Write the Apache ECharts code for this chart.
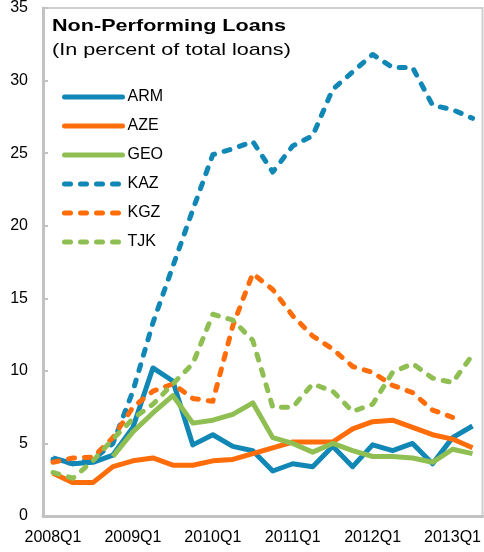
<!DOCTYPE html>
<html>
<head>
<meta charset="utf-8">
<script src="https://cdn.jsdelivr.net/npm/echarts@6/dist/echarts.min.js"></script>
<style>
  html, body { margin: 0; padding: 0; background: #fff; }
  #chart { width: 484px; height: 552px; }
</style>
</head>
<body>
<div id="chart"></div>
<script>
// quarters, 2008Q1 .. 2013Q2
const quarters = [
  "2008Q1", "2008Q2", "2008Q3", "2008Q4",
  "2009Q1", "2009Q2", "2009Q3", "2009Q4",
  "2010Q1", "2010Q2", "2010Q3", "2010Q4",
  "2011Q1", "2011Q2", "2011Q3", "2011Q4",
  "2012Q1", "2012Q2", "2012Q3", "2012Q4",
  "2013Q1", "2013Q2"
];

// NPL ratios, percent of total loans
const arm = [4.0, 3.6, 3.7, 4.2, 6.1, 10.2, 9.3, 4.9, 5.6, 4.8, 4.5, 3.1, 3.6, 3.4, 4.8, 3.4, 4.9, 4.5, 5.0, 3.6, 5.4, 6.2];
const aze = [2.95, 2.3, 2.3, 3.4, 3.8, 4.0, 3.5, 3.5, 3.8, 3.9, 4.3, 4.7, 5.1, 5.1, 5.1, 6.0, 6.5, 6.6, 6.1, 5.6, 5.3, 4.7];
const geo = [null, null, null, 4.1, 5.8, 7.1, 8.3, 6.4, 6.6, 7.0, 7.8, 5.4, 5.0, 4.4, 5.0, 4.5, 4.1, 4.1, 4.0, 3.7, 4.6, 4.3];
const kaz = [3.9, 3.6, 3.9, 5.0, 8.6, 13.3, 17.2, 21.1, 24.9, 25.3, 25.8, 23.7, 25.5, 26.2, 29.4, 30.6, 31.8, 30.9, 30.9, 28.3, 28.0, 27.4];
const kgz = [3.7, 4.0, 4.05, 5.4, 7.5, 8.6, 9.1, 8.1, 7.9, 13.1, 16.7, 15.6, 13.8, 12.4, 11.5, 10.3, 9.9, 9.0, 8.5, 7.3, 6.8, null];
const tjk = [3.0, 2.6, 3.8, 5.3, 6.7, 7.7, 9.1, 10.5, 13.9, 13.5, 12.1, 7.5, 7.5, 9.1, 8.6, 7.2, 7.7, 9.9, 10.5, 9.5, 9.2, 11.1];

const yTicks = { min: 0, max: 35, step: 5 };

const BLUE = "#1187b6";
const ORANGE = "#ff6d0a";
const GREEN = "#8fbf52";
const DASH = [6, 10];
const FONT = "Liberation Sans, Arial, sans-serif";

function mkLine(name, data, color, dashed) {
  return {
    name: name,
    type: "line",
    data: data,
    symbol: "none",
    connectNulls: false,
    lineStyle: {
      color: color,
      width: 5,
      type: dashed ? DASH : "solid",
      cap: dashed ? "round" : "butt",
      join: "round"
    },
    itemStyle: { color: color }
  };
}

const chart = echarts.init(document.getElementById("chart"));
chart.setOption({
  animation: false,
  backgroundColor: "#fff",
  textStyle: { fontFamily: FONT },
  // title text in the source is horizontally stretched, so draw it as graphic text
  graphic: [
    {
      type: "text", x: 52, y: 26, scaleX: 1.27,
      style: { text: "Non-Performing Loans", font: "bold 17px " + FONT, fill: "#000", verticalAlign: "middle" }
    },
    {
      type: "text", x: 52, y: 50, scaleX: 1.27,
      style: { text: "(In percent of total loans)", font: "17px " + FONT, fill: "#000", verticalAlign: "middle" }
    }
  ],
  legend: {
    orient: "vertical",
    left: 62,
    top: 89,
    padding: 0,
    itemWidth: 58,
    itemHeight: 14,
    itemGap: 13,
    itemStyle: { opacity: 0 },
    lineStyle: { width: 5, cap: "round" },
    textStyle: { fontSize: 16, color: "#000" },
    data: ["ARM", "AZE", "GEO", "KAZ", "KGZ", "TJK"]
  },
  grid: {
    left: 43, right: 1, top: 6, bottom: 36,
    show: true,
    borderColor: "#cfcfcf",
    borderWidth: 2
  },
  xAxis: {
    type: "category",
    data: quarters,
    boundaryGap: true,
    axisLine: { lineStyle: { color: "#c2c2c2", width: 3 } },
    axisTick: { inside: true, length: 5, interval: 3, lineStyle: { color: "#c2c2c2", width: 2 } },
    axisLabel: { interval: 3, fontSize: 16, color: "#000", margin: 14 },
    splitLine: { show: false }
  },
  yAxis: {
    type: "value",
    min: yTicks.min,
    max: yTicks.max,
    interval: yTicks.step,
    axisLine: { show: true, lineStyle: { color: "#c2c2c2", width: 3 } },
    axisTick: { show: true, inside: true, length: 5, lineStyle: { color: "#c2c2c2", width: 2 } },
    axisLabel: { fontSize: 16, color: "#000", margin: 15 },
    splitLine: { show: false }
  },
  series: [
    mkLine("ARM", arm, BLUE, false),
    mkLine("AZE", aze, ORANGE, false),
    mkLine("GEO", geo, GREEN, false),
    mkLine("KAZ", kaz, BLUE, true),
    mkLine("KGZ", kgz, ORANGE, true),
    mkLine("TJK", tjk, GREEN, true)
  ]
});
</script>
</body>
</html>
